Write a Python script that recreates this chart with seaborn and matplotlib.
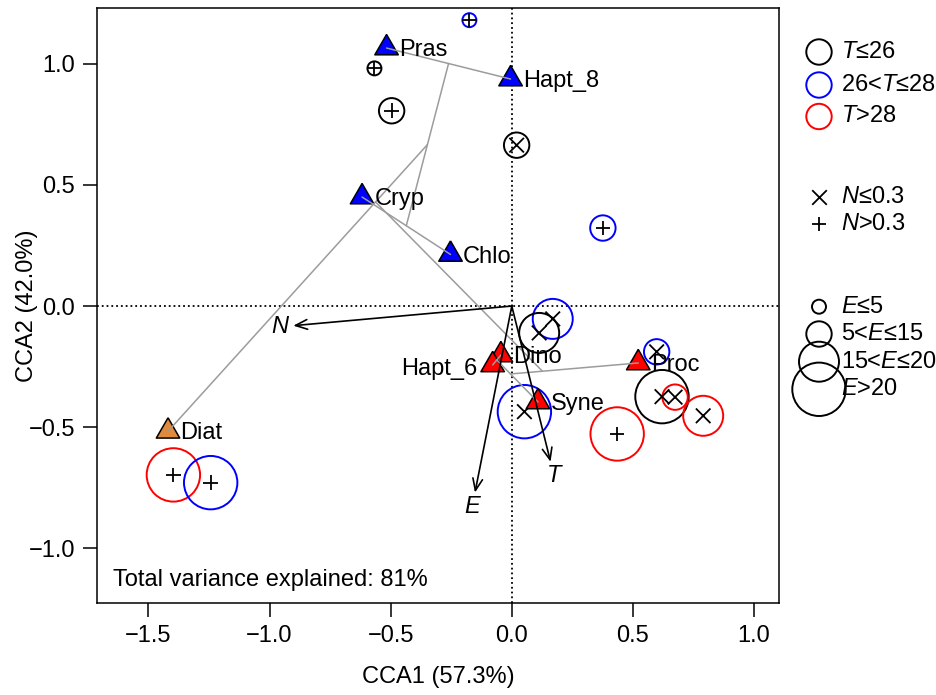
import numpy as np
import pandas as pd
import matplotlib
matplotlib.use("Agg")
import matplotlib.pyplot as plt
from matplotlib.markers import MarkerStyle
import seaborn as sns

# species scores (CCA1, CCA2)
species = ["Pras", "Hapt_8", "Cryp", "Chlo", "Diat", "Dino", "Hapt_6", "Syne", "Proc"]
sp_x = [-0.517, -0.005, -0.618, -0.253, -1.419, -0.045, -0.079, 0.108, 0.522]
sp_y = [1.065, 0.937, 0.450, 0.213, -0.517, -0.202, -0.243, -0.396, -0.235]
sp_group = ["blue", "blue", "blue", "blue", "diat", "red", "red", "red", "red"]

# hclust merge table (R style: -i = species i, j = earlier merge j)
merge = [(-1, -2), (-3, -4), (1, 2), (3, -5), (-6, -7), (5, -8), (6, -9), (4, 7)]

# environmental arrows
env = ["N", "T", "E"]
env_x = [-0.902, 0.160, -0.152]
env_y = [-0.081, -0.643, -0.770]

# site scores with temperature / nutrient / E classes
site_x = [-0.175, -0.567, -0.496, 0.020, 0.376, 0.169, 0.113, 0.598, 0.620, 0.674, 0.790, 0.435, 0.052, -1.397, -1.243]
site_y = [1.180, 0.981, 0.806, 0.664, 0.322, -0.053, -0.111, -0.189, -0.374, -0.376, -0.453, -0.528, -0.436, -0.697, -0.729]
site_T = ["mid", "low", "low", "low", "mid", "mid", "low", "mid", "low", "high", "high", "high", "mid", "high", "mid"]
site_N = ["hi", "hi", "hi", "lo", "hi", "lo", "lo", "lo", "lo", "lo", "lo", "hi", "lo", "hi", "hi"]
site_E = ["e1", "e1", "e2", "e2", "e2", "e3", "e3", "e2", "e4", "e2", "e3", "e4", "e4", "e4", "e4"]

T_levels = ["low", "mid", "high"]
T_labels = [r"$T$≤26", r"26<$T$≤28", r"$T$>28"]
N_levels = ["lo", "hi"]
N_labels = [r"$N$≤0.3", r"$N$>0.3"]
E_levels = ["e1", "e2", "e3", "e4"]
E_labels = [r"$E$≤5", r"5<$E$≤15", r"15<$E$≤20", r"$E$>20"]

T_colors = {"low": "black", "mid": "#0000FF", "high": "#FF0000"}
group_colors = {"blue": "#0000FF", "red": "#FF0000", "diat": "#E08A3C"}
N_markers = {"lo": "x", "hi": "+"}
# circle radius in px -> scatter size in pt^2
E_radius = {"e1": 7, "e2": 12.7, "e3": 20, "e4": 26.7}
E_sizes = {k: (2 * r * 0.72) ** 2 for k, r in E_radius.items()}

sns.set_style("ticks")
plt.rcParams["font.family"] = ["Liberation Sans", "DejaVu Sans"]
plt.rcParams["mathtext.fontset"] = "custom"
plt.rcParams["mathtext.it"] = "Liberation Sans:italic"
plt.rcParams["mathtext.rm"] = "Liberation Sans"
for key in ["text.color", "axes.labelcolor", "xtick.color", "ytick.color", "axes.edgecolor"]:
    plt.rcParams[key] = "black"
FS = 17


def cluster_segments(xs, ys, merge):
    # ordicluster-style segments between merged cluster centres
    pos, cnt, segs = {}, {}, []

    def get(k):
        if k < 0:
            return (xs[-k - 1], ys[-k - 1]), 1
        return pos[k], cnt[k]

    for i, (a, b) in enumerate(merge, start=1):
        pa, na = get(a)
        pb, nb = get(b)
        segs.append((pa, pb))
        pos[i] = ((na * pa[0] + nb * pb[0]) / (na + nb), (na * pa[1] + nb * pb[1]) / (na + nb))
        cnt[i] = na + nb
    return segs


fig = plt.figure(figsize=(9.36, 6.95), dpi=100)
ax = fig.add_axes([97.3 / 936, 1 - 602.7 / 695, 681.7 / 936, 594.4 / 695])
ax.set_xlim(-1.711, 1.103)
ax.set_ylim(-1.2245, 1.229)

ax.axhline(0, color="black", ls=":", lw=1.3, zorder=1)
ax.axvline(0, color="black", ls=":", lw=1.3, zorder=1)

sites = pd.DataFrame({"x": site_x, "y": site_y, "T": site_T, "N": site_N, "E": site_E})

# open circles: colour = T class, size = E class
sns.scatterplot(data=sites, x="x", y="y", hue="T", palette=T_colors, size="E",
                sizes=E_sizes, marker="o", legend=False, ax=ax, zorder=2)
circ = ax.collections[-1]
circ.set_edgecolors(circ.get_facecolors())
circ.set_facecolors("none")
circ.set_linewidth(1.4)

# inner symbols: N class
sns.scatterplot(data=sites, x="x", y="y", style="N", markers=N_markers, color="black",
                s=110, linewidth=1.3, legend=False, ax=ax, zorder=3)

# species triangles (R pch 24 geometry)
tri = MarkerStyle([(0, 1.555), (1.347, -0.778), (-1.347, -0.778), (0, 1.555)])
spec = pd.DataFrame({"x": sp_x, "y": sp_y, "g": sp_group})
sns.scatterplot(data=spec, x="x", y="y", hue="g", palette=group_colors, marker=tri,
                s=380, edgecolor="black", linewidth=1.1, legend=False, ax=ax, zorder=4)

for p, q in cluster_segments(sp_x, sp_y, merge):
    ax.plot([p[0], q[0]], [p[1], q[1]], color="#9c9c9c", lw=1.1, zorder=5)

for name, x, y in zip(species, sp_x, sp_y):
    if name == "Hapt_6":
        ax.annotate(name, (x, y), xytext=(-11, -3), textcoords="offset points",
                    ha="right", va="center", fontsize=FS, zorder=7)
    else:
        ax.annotate(name, (x, y), xytext=(9, -1.5), textcoords="offset points",
                    ha="left", va="center", fontsize=FS, zorder=7)

for name, x, y in zip(env, env_x, env_y):
    ax.annotate("", xy=(x, y), xytext=(0, 0),
                arrowprops=dict(arrowstyle="->,head_length=0.85,head_width=0.35", lw=1.2,
                                color="black", shrinkA=0, shrinkB=0, mutation_scale=10),
                zorder=6)
    u = np.array([x, y]) / np.hypot(x, y)
    ax.annotate(name, (x, y), xytext=(u[0] * 10, u[1] * 10), textcoords="offset points",
                ha="center", va="center", fontsize=FS, style="italic", zorder=7)

ax.text(0.023, 0.038, "Total variance explained: 81%", transform=ax.transAxes,
        ha="left", va="center", fontsize=FS)

ax.set_xticks([-1.5, -1.0, -0.5, 0.0, 0.5, 1.0])
ax.set_yticks([-1.0, -0.5, 0.0, 0.5, 1.0])
ax.set_xticklabels(["−1.5", "−1.0", "−0.5", "0.0", "0.5", "1.0"])
ax.set_yticklabels(["−1.0", "−0.5", "0.0", "0.5", "1.0"])
ax.tick_params(direction="out", length=10, width=1.1, labelsize=FS, pad=6, color="black")
for s in ax.spines.values():
    s.set_visible(True)
    s.set_linewidth(1.1)
    s.set_color("black")

ax.set_xlabel("CCA1 (57.3%)", fontsize=FS)
ax.set_ylabel("CCA2 (42.0%)", fontsize=FS)
ax.xaxis.label.set_va("center")
ax.yaxis.label.set_va("center")
ax.xaxis.set_label_coords((438 - 97.3) / 681.7, (602.7 - 677) / 594.4)
ax.yaxis.set_label_coords((27 - 97.3) / 681.7, 0.5)

# legend drawn in pixel space to the right of the panel
lax = fig.add_axes([0, 0, 1, 1])
lax.set_xlim(0, 936)
lax.set_ylim(695, 0)
lax.axis("off")
lx, tx = 819, 841
for lev, lab, yy in zip(T_levels, T_labels, [52, 85, 116.5]):
    lax.scatter([lx], [yy], s=E_sizes["e2"], facecolors="none", edgecolors=T_colors[lev], linewidths=1.4)
    lax.text(tx, yy, lab, ha="left", va="center", fontsize=FS)
for lev, lab, yy in zip(N_levels, N_labels, [197, 224]):
    lax.scatter([lx], [yy], s=110, marker=N_markers[lev], color="black", linewidths=1.3)
    lax.text(tx, yy, lab, ha="left", va="center", fontsize=FS)
for lev, lab, yy in zip(E_levels, E_labels, [306.7, 334, 361.7, 389.3]):
    lax.scatter([lx], [yy], s=E_sizes[lev], facecolors="none", edgecolors="black", linewidths=1.4)
    lax.text(tx, yy, lab, ha="left", va="center", fontsize=FS)

fig.savefig("out.png", dpi=100)
